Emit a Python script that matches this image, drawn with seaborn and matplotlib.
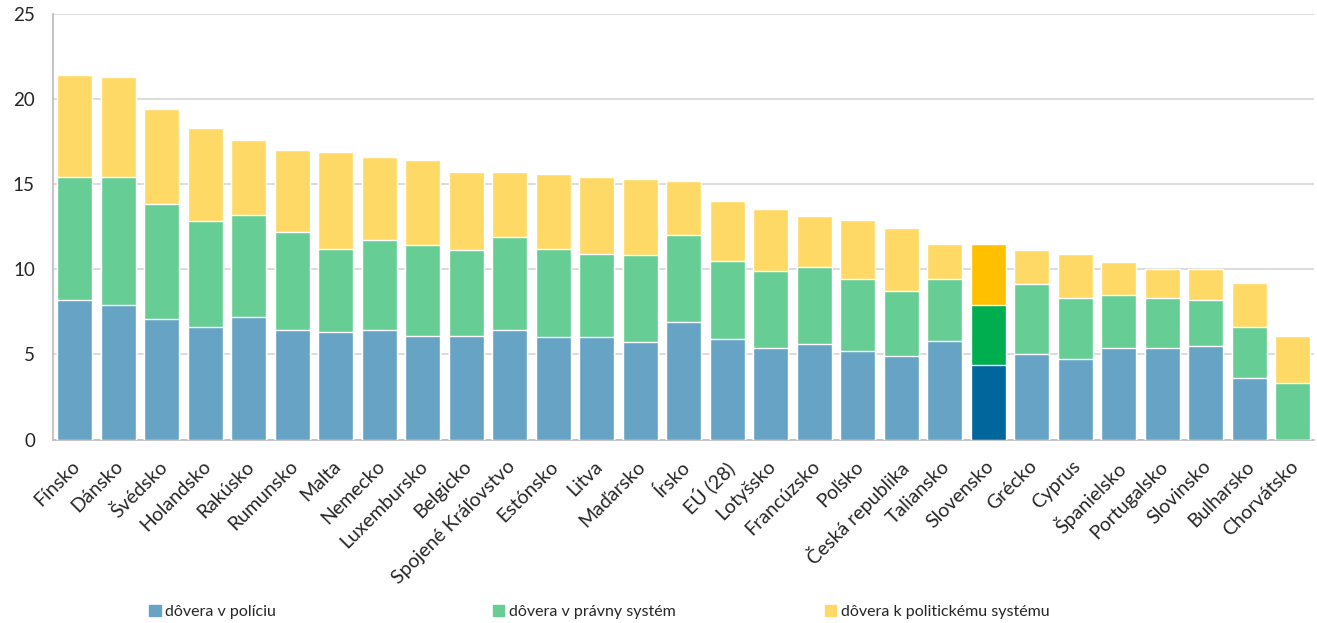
import numpy as np
import pandas as pd
import matplotlib
matplotlib.use('Agg')
import matplotlib.pyplot as plt
import matplotlib.patches as mpatches
import matplotlib.transforms as mtransforms
import seaborn as sns

# Data
countries = ['Fínsko', 'Dánsko', 'Švédsko', 'Holandsko', 'Rakúsko', 'Rumunsko', 'Malta',
             'Nemecko', 'Luxembursko', 'Belgicko', 'Spojené Kráľovstvo', 'Estónsko', 'Litva',
             'Maďarsko', 'Írsko', 'EÚ (28)', 'Lotyšsko', 'Francúzsko', 'Poľsko',
             'Česká republika', 'Taliansko', 'Slovensko', 'Grécko', 'Cyprus', 'Španielsko',
             'Portugalsko', 'Slovinsko', 'Bulharsko', 'Chorvátsko']
police = [8.2, 7.9, 7.1, 6.6, 7.2, 6.4, 6.3, 6.4, 6.1, 6.1, 6.4, 6.0, 6.0, 5.7, 6.9, 5.9,
          5.4, 5.6, 5.2, 4.9, 5.8, 4.4, 5.0, 4.7, 5.4, 5.4, 5.5, 3.6, 0.0]
legal = [7.2, 7.5, 6.7, 6.2, 6.0, 5.8, 4.9, 5.3, 5.3, 5.0, 5.5, 5.2, 4.9, 5.1, 5.1, 4.6,
         4.5, 4.5, 4.2, 3.8, 3.6, 3.5, 4.1, 3.6, 3.1, 2.9, 2.7, 3.0, 3.3]
political = [6.0, 5.9, 5.6, 5.5, 4.4, 4.8, 5.7, 4.9, 5.0, 4.6, 3.8, 4.4, 4.5, 4.5, 3.2, 3.5,
             3.6, 3.0, 3.5, 3.7, 2.1, 3.6, 2.0, 2.6, 1.9, 1.7, 1.8, 2.6, 2.8]
series_names = ['dôvera v políciu', 'dôvera v právny systém', 'dôvera k politickému systému']
highlight = 'Slovensko'

df = pd.DataFrame({'country': countries, 'police': police, 'legal': legal, 'political': political})
df['lvl1'] = df['police']
df['lvl2'] = df['police'] + df['legal']
df['lvl3'] = df['lvl2'] + df['political']

light = {'police': '#66A3C4', 'legal': '#66CE95', 'political': '#FFD966'}
dark = {'police': '#00669C', 'legal': '#00AE4F', 'political': '#FFC000'}

def pal(key):
    return [dark[key] if c == highlight else light[key] for c in countries]

sns.set_style('white')
plt.rcParams['font.family'] = ['Lato', 'DejaVu Sans']

fig = plt.figure(figsize=(13.17, 6.23), dpi=100)
ax = fig.add_axes([0.0402, 0.2945, 0.9579, 0.6838])

# stacked bars drawn as overlapping cumulative totals
for col, key in [('lvl3', 'political'), ('lvl2', 'legal'), ('lvl1', 'police')]:
    sns.barplot(data=df, x='country', y=col, hue='country', palette=pal(key),
                legend=False, width=0.8, saturation=1, ax=ax, zorder=3)

ax.set_ylim(0, 25)
ax.set_xlim(-0.5, len(countries) - 0.5)
ax.set_yticks([0, 5, 10, 15, 20, 25])
ax.yaxis.grid(True, color='#D9D9D9', linewidth=1.3, zorder=0)
ax.set_axisbelow(True)
ax.set_xlabel('')
ax.set_ylabel('')
for s in ['top', 'right']:
    ax.spines[s].set_visible(False)
ax.spines['left'].set_color('#BFBFBF')
ax.spines['bottom'].set_color('#BFBFBF')
ax.spines['left'].set_linewidth(1.3)
ax.spines['bottom'].set_linewidth(1.3)
ax.tick_params(axis='y', length=0, pad=13, labelsize=13.5, labelcolor='#262626')
ax.tick_params(axis='x', length=0, pad=13, labelsize=14, labelcolor='#262626')
shift = mtransforms.ScaledTranslation(-2.5 / 72, 0, fig.dpi_scale_trans)
for lab in ax.get_xticklabels():
    lab.set_rotation(45)
    lab.set_ha('right')
    lab.set_rotation_mode('anchor')
    lab.set_transform(lab.get_transform() + shift)

# legend entries placed like the original
handles = [mpatches.Patch(color=light[k]) for k in ['police', 'legal', 'political']]
xs = [0.1135, 0.3745, 0.6265]
for h, name, x in zip(handles, series_names, xs):
    leg = fig.legend([h], [name], loc='center left', bbox_to_anchor=(x, 0.018),
                     frameon=False, fontsize=11.5, handlelength=0.7, handleheight=0.7,
                     handletextpad=0.3, borderpad=0, borderaxespad=0)
    for t in leg.get_texts():
        t.set_color('#262626')

fig.savefig('out.png', dpi=100)
